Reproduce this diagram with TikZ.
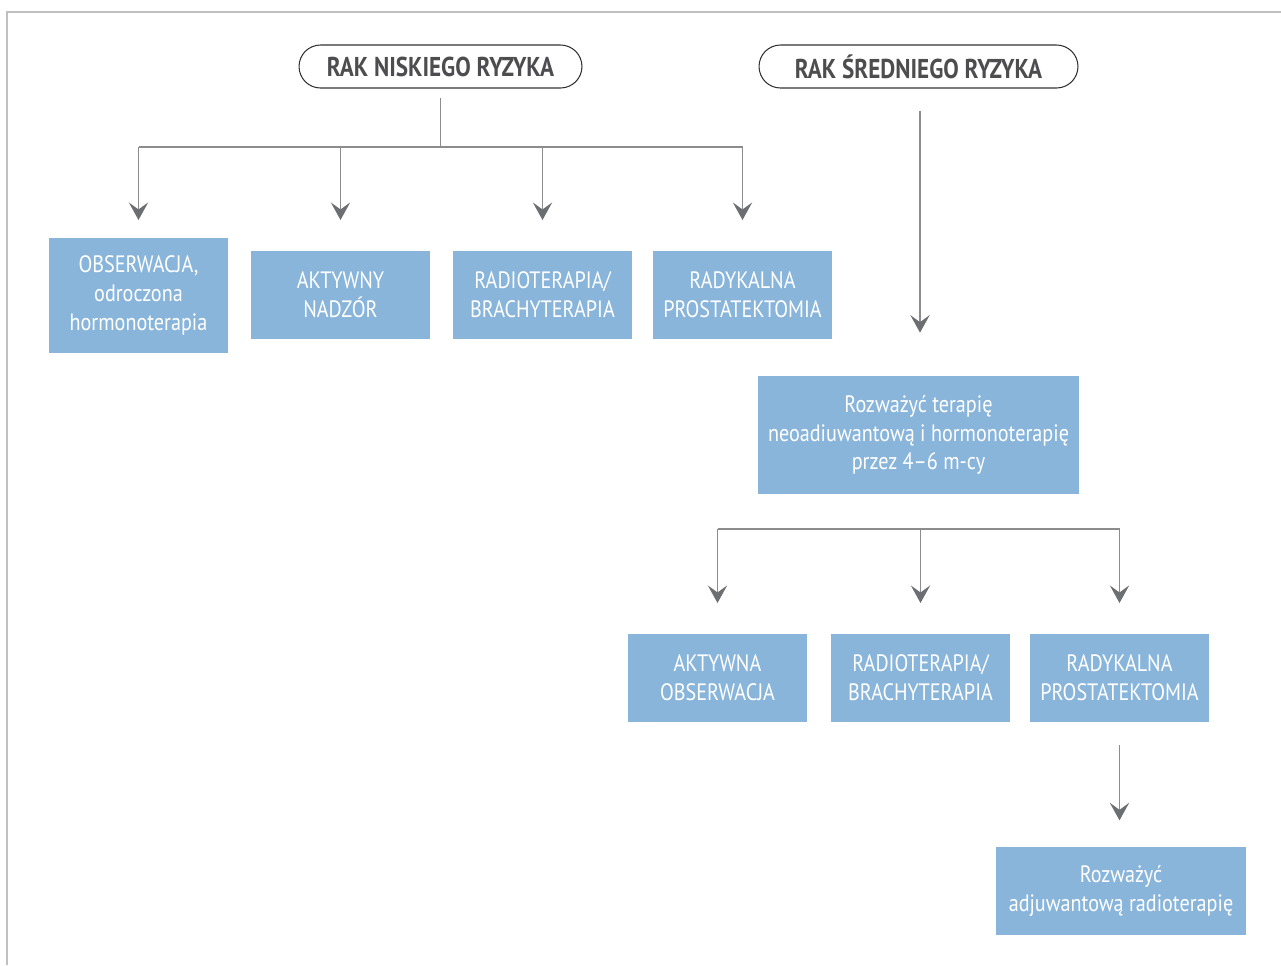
\documentclass[tikz,border=0pt]{standalone}
\usepackage{fontspec}
\setmainfont{PT Sans}[FakeStretch=0.85]
\usetikzlibrary{arrows.meta,calc}
\definecolor{boxblue}{HTML}{89B5DB}
\definecolor{linegray}{HTML}{8C8C8E}
\definecolor{tipgray}{HTML}{6D6E71}
\definecolor{titlegray}{HTML}{4D4D4F}
\definecolor{framegray}{HTML}{C0C0C0}

\begin{document}
\begin{tikzpicture}[
  x=0.02cm, y=-0.02cm,
  font=\fontsize{13.5}{16.4}\selectfont,
  riskbox/.style={draw=black!80, line width=0.6pt, rounded corners=0.43cm, fill=white, align=center, inner sep=0pt, minimum height=0.86cm, font=\fontsize{15.5}{17}\selectfont\bfseries, text=titlegray},
  treat/.style={fill=boxblue, text=white, align=center, inner sep=2pt, minimum width=3.58cm, minimum height=1.76cm},
  line/.style={draw=linegray, line width=0.9pt},
  arr/.style={line, -{Stealth[length=10pt, width=11pt, inset=4pt, color=tipgray]}},
]
\useasboundingbox (0,0) rectangle (1281,965);
% frame
\draw[framegray, line width=1.1pt] (7,965) -- (7,12) -- (1281,12);
% ================= risk groups =================
\node[riskbox, minimum width=5.66cm, text depth=0pt] (low) at (440.5,66.5) {RAK NISKIEGO RYZYKA};
\node[riskbox, minimum width=6.38cm, text depth=0pt] (mid) at (918.5,66.5) {RAK ŚREDNIEGO RYZYKA};
% ================= low risk =================
\node[treat, minimum height=2.3cm] (b1) at (138.5,295.5) {OBSERWACJA,\\ odroczona\\ hormonoterapia};
\node[treat] (b2) at (340.5,295) {AKTYWNY\\ NADZÓR};
\node[treat] (b3) at (542.5,295) {RADIOTERAPIA/\\ BRACHYTERAPIA};
\node[treat] (b4) at (742.5,295) {RADYKALNA\\ PROSTATEKTOMIA};
\coordinate (lowbar) at (440.5,147);
\coordinate (lowtip) at (0,220);
\draw[line] ($(low.south)+(0,9)$) -- (lowbar);
\draw[line] (b1.north |- lowbar) -- (b4.north |- lowbar);
\foreach \b in {b1,b2,b3,b4}
  \draw[arr] (\b.north |- lowbar) -- (\b.north |- lowtip);
% ================= intermediate risk =================
\node[treat, minimum width=6.42cm, minimum height=2.36cm] (neo) at (918.5,435) {Rozważyć terapię\\ neoadiuwantową i hormonoterapię\\ przez 4--6 m-cy};
\draw[arr] ($(mid.south)+(1.5,22)$) -- ($(neo.north)+(1.5,-43)$);
\node[treat] (c1) at (717.5,678) {AKTYWNA\\ OBSERWACJA};
\node[treat] (c2) at (920.5,678) {RADIOTERAPIA/\\ BRACHYTERAPIA};
\node[treat] (c3) at (1119.5,678) {RADYKALNA\\ PROSTATEKTOMIA};
\coordinate (midbar) at (920.5,529);
\coordinate (midtip) at (0,603);
\draw[line] (c1.north |- midbar) -- (c3.north |- midbar);
\foreach \c in {c1,c2,c3}
  \draw[arr] (\c.north |- midbar) -- (\c.north |- midtip);
\node[treat, minimum width=5cm] (adj) at (1121,891) {Rozważyć\\ adjuwantową radioterapię};
\draw[arr] ($(c3.south)+(0,23)$) -- ($(c3.south)+(0,98)$);
\end{tikzpicture}
\end{document}
